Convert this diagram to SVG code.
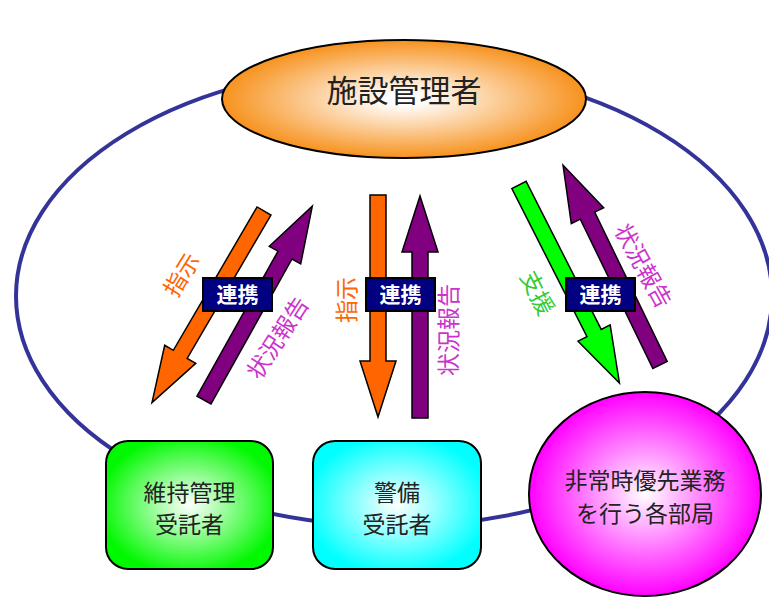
<svg xmlns="http://www.w3.org/2000/svg" width="769" height="597" viewBox="0 0 769 597">
<defs>
<radialGradient id="gOrange" cx="50%" cy="50%" r="50%"><stop offset="0.1" stop-color="#ffffff"/><stop offset="1" stop-color="#f7921e"/></radialGradient>
<radialGradient id="gGreen" cx="50%" cy="50%" r="55%"><stop offset="0" stop-color="#ffffff"/><stop offset="1" stop-color="#00f800"/></radialGradient>
<radialGradient id="gCyan" cx="50%" cy="50%" r="55%"><stop offset="0" stop-color="#ffffff"/><stop offset="1" stop-color="#00ffff"/></radialGradient>
<radialGradient id="gMag" cx="50%" cy="50%" r="50%"><stop offset="0" stop-color="#ffffff"/><stop offset="1" stop-color="#ff00ff"/></radialGradient>
<polygon id="arrow" points="0,-8 166,-8 166,-18 222,0 166,18 166,8 0,8"/>
</defs>
<style>
text{font-family:"Noto Sans CJK JP","Noto Sans CJK SC",sans-serif;text-anchor:middle}
.node{stroke:#000;stroke-width:2}
.ntext{fill:#222;font-size:23px}
.arr{stroke:#000;stroke-width:1.5;stroke-linejoin:miter}
.lbl{fill:#000080;stroke:#000;stroke-width:2}
.lbltext{fill:#fff;font-size:21px;font-weight:bold}
.t{font-size:23px}
</style>
<rect width="769" height="597" fill="#fff"/>
<g id="ring">
<ellipse cx="394" cy="296" rx="378" ry="230" fill="none" stroke="#333399" stroke-width="4"/>
</g>
<g id="connectors">
<use href="#arrow" class="arr" fill="#ff6600" transform="translate(264,211) rotate(120.3)"/>
<use href="#arrow" class="arr" fill="#800080" transform="translate(204,400) rotate(-60.8)"/>
<use href="#arrow" class="arr" fill="#ff6600" transform="translate(378,195) rotate(90)"/>
<use href="#arrow" class="arr" fill="#800080" transform="translate(420,418) rotate(-90)"/>
<use href="#arrow" class="arr" fill="#00ff00" transform="translate(519,185) rotate(63.1)"/>
<use href="#arrow" class="arr" fill="#800080" transform="translate(660,365) rotate(-115.9)"/>
<text class="t" fill="#ff6600" transform="translate(182,275) rotate(-58)" y="8">指示</text>
<text class="t" fill="#cc33cc" transform="translate(278,338) rotate(-57)" y="8">状況報告</text>
<text class="t" fill="#ff6600" transform="translate(347,300) rotate(-90)" y="8">指示</text>
<text class="t" fill="#cc33cc" transform="translate(449,330) rotate(-90)" y="8">状況報告</text>
<text class="t" fill="#33cc33" transform="translate(537,293) rotate(63)" y="8">支援</text>
<text class="t" fill="#cc33cc" transform="translate(643,266) rotate(61)" y="8">状況報告</text>
<g id="link1"><rect class="lbl" x="203" y="278" width="69" height="33"/><text class="lbltext" x="237.5" y="302">連携</text></g>
<g id="link2"><rect class="lbl" x="366" y="278" width="69" height="33"/><text class="lbltext" x="400.5" y="302">連携</text></g>
<g id="link3"><rect class="lbl" x="566" y="278" width="69" height="33"/><text class="lbltext" x="600.5" y="302">連携</text></g>
</g>
<g id="manager">
<ellipse class="node" cx="404" cy="99" rx="182" ry="59" fill="url(#gOrange)" stroke-width="1.5"/>
<text x="404" y="102" fill="#222" font-size="31">施設管理者</text>
</g>
<g id="maint">
<rect class="node" x="106" y="441" width="167" height="128" rx="22" fill="url(#gGreen)"/>
<text class="ntext" x="189.5" y="501">維持管理</text>
<text class="ntext" x="189.5" y="533">受託者</text>
</g>
<g id="security">
<rect class="node" x="313" y="441" width="168" height="128" rx="22" fill="url(#gCyan)"/>
<text class="ntext" x="397" y="501">警備</text>
<text class="ntext" x="397" y="533">受託者</text>
</g>
<g id="depts">
<ellipse class="node" cx="645" cy="494" rx="116" ry="102" fill="url(#gMag)"/>
<text class="ntext" x="645" y="489" font-size="22">非常時優先業務</text>
<text class="ntext" x="645" y="522" font-size="22">を行う各部局</text>
</g>
</svg>
